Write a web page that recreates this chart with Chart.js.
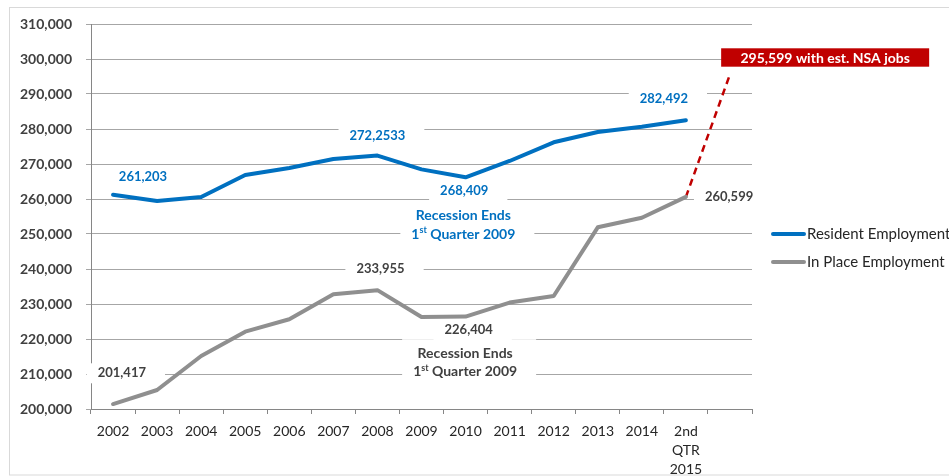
<!DOCTYPE html>
<html><head><meta charset="utf-8">
<script src="https://cdn.jsdelivr.net/npm/chart.js@4.4.0/dist/chart.umd.min.js"></script>
<style>html,body{margin:0;padding:0;background:#fff;overflow:hidden}#wrap{width:949px;height:476px;position:relative}</style>
</head><body><div id="wrap"><canvas id="c" width="949" height="476"></canvas></div>
<script>
// ---- data ----
const categories = ['2002','2003','2004','2005','2006','2007','2008','2009','2010','2011','2012','2013','2014',['2nd','QTR','2015'],''];
const residentEmployment = [261203, 259430, 260570, 266860, 268860, 271430, 272400, 268470, 266200, 270860, 276200, 279140, 280660, 282492, null];
const inPlaceEmployment  = [201417, 205430, 215140, 222090, 225630, 232770, 233955, 226290, 226404, 230400, 232290, 251910, 254660, 260599, null];
const nsaEstimate        = [null, null, null, null, null, null, null, null, null, null, null, null, null, 260599, 295599];
const seriesNames = ['Resident Employment', 'In Place Employment'];
const yMin = 200000, yMax = 310000, yStep = 10000;
const calloutText = '295,599 with est. NSA jobs';

// ---- styling ----
const BLUE = '#0070C0', GRAY = '#8F8F8F', RED = '#C00000', LABELGRAY = '#404040';
const FONT = 'Lato, "Open Sans", sans-serif';

// annotation anchors in data coordinates (category index, value)
const annotations = [
  {lines:['261,203'], x:0.68, y:266370, color:BLUE},
  {lines:['272,2533'], x:6.0, y:278000, color:BLUE},
  {lines:['268,409'], x:7.97, y:262290, color:BLUE},
  {lines:['Recession Ends','1^{st} Quarter 2009'], x:7.95, y:252570, color:BLUE, big:true},
  {lines:['282,492'], x:12.5, y:288490, color:BLUE},
  {lines:['201,417'], x:0.2, y:210200, color:LABELGRAY},
  {lines:['233,955'], x:6.07, y:240000, color:LABELGRAY},
  {lines:['226,404'], x:8.07, y:222570, color:LABELGRAY},
  {lines:['Recession Ends','1^{st} Quarter 2009'], x:7.99, y:213290, color:LABELGRAY, big:true},
  {lines:['260,599'], x:13.98, y:260660, color:LABELGRAY}
];
const callout = {x:16.16, y:300430};

function parts(s){
  const out=[]; const re=/\^\{([^}]*)\}/g; let last=0, m;
  while((m=re.exec(s))){ if(m.index>last) out.push({t:s.slice(last,m.index)}); out.push({t:m[1],sup:true}); last=re.lastIndex; }
  if(last<s.length) out.push({t:s.slice(last)});
  return out;
}
function fonts(big){ return big ? ['bold 14px '+FONT, 'bold 9px '+FONT] : ['bold 13px '+FONT, 'bold 8px '+FONT]; }
function lineWidth(ctx, s, big){
  const [M,S]=fonts(big); let w=0;
  for(const p of parts(s)){ ctx.font = p.sup?S:M; w+=ctx.measureText(p.t).width; } return w;
}
function drawLine(ctx, s, cx, cy, big){
  const [M,S]=fonts(big); const w=lineWidth(ctx,s,big); let x=cx-w/2;
  ctx.textAlign='left'; ctx.textBaseline='middle';
  for(const p of parts(s)){ ctx.font=p.sup?S:M; ctx.fillText(p.t, x, p.sup?cy-4:cy); x+=ctx.measureText(p.t).width; }
}
const LH = 18.6;

const annotPlugin = {
  id:'annot',
  beforeDraw(chart){
    const ctx=chart.ctx; ctx.save();
    ctx.fillStyle='#fff'; ctx.fillRect(0,0,chart.width,chart.height);
    ctx.strokeStyle='#D9D9D9'; ctx.lineWidth=1;
    ctx.strokeRect(9.5,7.5,1000,467.5);
    ctx.restore();
  },
  beforeDatasetsDraw(chart){
    const ctx=chart.ctx, xs=chart.scales.x, ys=chart.scales.y; ctx.save();
    ctx.fillStyle='#fff';
    for(const a of annotations){
      const cx=xs.getPixelForValue(a.x), cy=ys.getPixelForValue(a.y);
      let w=0; for(const l of a.lines) w=Math.max(w,lineWidth(ctx,l,a.big));
      const h=(a.lines.length-1)*LH, padV=a.lines.length>1?14:10;
      ctx.fillRect(cx-w/2-11, cy-h/2-padV, w+30, h+2*padV);
    }
    ctx.restore();
  },
  afterDatasetsDraw(chart){
    const ctx=chart.ctx, xs=chart.scales.x, ys=chart.scales.y; ctx.save();
    for(const a of annotations){
      const cx=xs.getPixelForValue(a.x), cy=ys.getPixelForValue(a.y);
      const h=(a.lines.length-1)*LH;
      ctx.fillStyle=a.color;
      a.lines.forEach((l,i)=>drawLine(ctx,l,cx,cy-h/2+i*LH,a.big));
    }
    // callout box
    const cx=xs.getPixelForValue(callout.x), cy=ys.getPixelForValue(callout.y);
    ctx.font='bold 14px '+FONT; const tw=ctx.measureText(calloutText).width;
    ctx.fillStyle=RED; ctx.fillRect(cx-104, cy-9.2, 208, 18.4);
    ctx.fillStyle='#fff'; ctx.textAlign='center'; ctx.textBaseline='middle';
    ctx.fillText(calloutText, cx, cy+0.5);
    // legend
    const lx=chart.chartArea.right+21, ly0=234, gap=28;
    [BLUE, GRAY].forEach((col,i)=>{
      const y=ly0+i*gap;
      ctx.strokeStyle=col; ctx.lineWidth=4; ctx.lineCap='round';
      ctx.beginPath(); ctx.moveTo(lx,y); ctx.lineTo(lx+31,y); ctx.stroke();
      ctx.fillStyle='#262626'; ctx.font='15px '+FONT; ctx.textAlign='left'; ctx.textBaseline='middle';
      ctx.fillText(seriesNames[i], lx+34, y+0.5);
    });
    ctx.restore();
  }
};

new Chart(document.getElementById('c'), {
  type:'line',
  data:{
    labels:categories,
    datasets:[
      {label:seriesNames[0], data:residentEmployment, borderColor:BLUE, backgroundColor:BLUE, borderWidth:4, pointRadius:0, tension:0, borderCapStyle:'round', borderJoinStyle:'round'},
      {label:seriesNames[1], data:inPlaceEmployment, borderColor:GRAY, backgroundColor:GRAY, borderWidth:4, pointRadius:0, tension:0, borderCapStyle:'round', borderJoinStyle:'round'},
      {label:'NSA estimate', data:nsaEstimate, borderColor:RED, borderWidth:2.5, borderDash:[7,5], pointRadius:0, tension:0, spanGaps:false}
    ]
  },
  options:{
    responsive:false, animation:false, devicePixelRatio:1,
    layout:{padding:{left:0,right:197,top:24,bottom:0}},
    plugins:{legend:{display:false}, tooltip:{enabled:false}},
    scales:{
      x:{
        type:'category', offset:true,
        grid:{offset:true, drawOnChartArea:false, drawTicks:true, tickLength:5, color:'#868686'},
        border:{display:true, color:'#868686'},
        ticks:{color:'#262626', font:{family:FONT, size:14, lineHeight:1.36}, padding:8, maxRotation:0, autoSkip:false},
        afterFit:s=>{s.height=67;}
      },
      y:{
        min:yMin, max:yMax,
        ticks:{stepSize:yStep, color:LABELGRAY, font:{family:FONT, size:14, weight:'bold'}, padding:14,
               callback:v=>Number(v).toLocaleString('en-US')},
        grid:{color:'#A6A6A6', drawTicks:true, tickLength:5},
        border:{display:true, color:'#868686'},
        afterFit:s=>{s.width=91;}
      }
    }
  },
  plugins:[annotPlugin]
});
</script></body></html>
